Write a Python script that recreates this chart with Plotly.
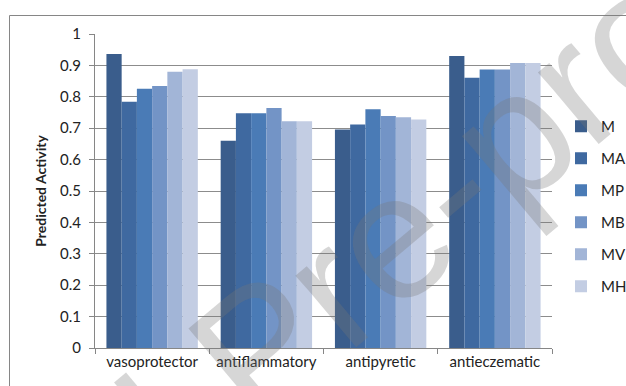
import plotly.graph_objects as go

categories = ["vasoprotector", "antiflammatory", "antipyretic", "antieczematic"]
series_names = ["M", "MA", "MP", "MB", "MV", "MH"]
values = {
    "M":  [0.936, 0.660, 0.696, 0.930],
    "MA": [0.784, 0.748, 0.712, 0.861],
    "MP": [0.826, 0.748, 0.760, 0.887],
    "MB": [0.834, 0.764, 0.739, 0.887],
    "MV": [0.880, 0.722, 0.735, 0.908],
    "MH": [0.888, 0.722, 0.728, 0.908],
}
colors = ["#3A5D8C", "#3F69A0", "#4A7BB6", "#7394C6", "#A2B5D7", "#C3CDE3"]
y_ticks = [0, 0.1, 0.2, 0.3, 0.4, 0.5, 0.6, 0.7, 0.8, 0.9, 1]
y_ticktext = ["0", "0.1", "0.2", "0.3", "0.4", "0.5", "0.6", "0.7", "0.8", "0.9", "1"]

FONT = "Lato, 'Open Sans', sans-serif"
W, H = 626, 386
ml, mr, mt, mb = 95, 74, 34, 38

fig = go.Figure()
for name, col in zip(series_names, colors):
    fig.add_trace(go.Bar(
        x=categories, y=values[name], name=name,
        marker=dict(color=col, line=dict(width=0)),
        legendgroup=name,
    ))

pw = W - ml - mr
ph = H - mt - mb


def px_x(p):
    return (p - ml) / pw


def px_y(p):
    return (H - mb - p) / ph


# outer chart frame
fig.add_shape(type="rect", xref="paper", yref="paper",
              x0=px_x(9.5), x1=px_x(640), y0=px_y(400), y1=px_y(15.5),
              line=dict(color="#868686", width=1), fillcolor="rgba(0,0,0,0)",
              layer="below")

# diagonal watermark
fig.add_annotation(
    xref="paper", yref="paper", x=px_x(258), y=px_y(349),
    text="Journal Pre-proof", showarrow=False, textangle=-40,
    font=dict(family="'Liberation Sans', Arial, sans-serif", size=178,
              color="rgba(120,120,120,0.3)"),
    xanchor="center", yanchor="middle",
)

fig.update_layout(
    width=W, height=H,
    margin=dict(l=ml, r=mr, t=mt, b=mb, pad=0, autoexpand=False),
    paper_bgcolor="white", plot_bgcolor="white",
    barmode="group", bargap=0.2, bargroupgap=0,
    font=dict(family=FONT, size=15, color="#222222"),
    showlegend=True,
    legend=dict(x=px_x(561), y=px_y(110), xanchor="left", yanchor="top",
                font=dict(family=FONT, size=15, color="#222222"),
                tracegroupgap=9.5, itemwidth=30, bgcolor="rgba(0,0,0,0)"),
    xaxis=dict(
        showline=True, linecolor="#868686", linewidth=1,
        ticks="outside", ticklen=5, tickcolor="#868686", tickson="boundaries",
        showgrid=False, tickfont=dict(family=FONT, size=15),
        tickangle=0, automargin=False,
    ),
    yaxis=dict(
        range=[0, 1], tickvals=y_ticks, ticktext=y_ticktext,
        showline=True, linecolor="#868686", linewidth=1,
        ticks="outside", ticklen=5, tickcolor="#868686",
        ticklabelstandoff=5, automargin=False,
        showgrid=True, gridcolor="#8C8C8C", gridwidth=1, zeroline=False,
        tickfont=dict(family=FONT, size=15),
        title=dict(text="<b>Predicted Activity</b>", font=dict(family=FONT, size=14),
                   standoff=10),
    ),
)

fig.write_html("out.html")
